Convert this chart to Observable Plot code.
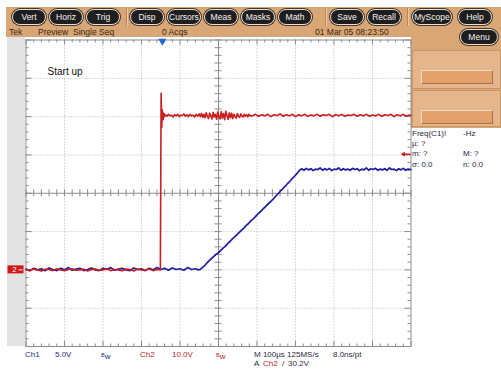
<!DOCTYPE html>
<html><head><meta charset="utf-8">
<script src="https://cdn.jsdelivr.net/npm/d3@7"></script>
<script src="https://cdn.jsdelivr.net/npm/@observablehq/plot@0.6"></script>
<style>
body{margin:0;background:#fff;font-family:"Liberation Sans",Arial,sans-serif;}
#wrap{position:relative;width:501px;height:369px;overflow:hidden;background:#fff;}
#topbar{position:absolute;left:6px;top:7px;width:495px;height:30px;background:#D9A675;}
.pill{position:absolute;top:9px;height:14px;line-height:14px;background:#1e1e1e;color:#f4f4f4;border:1px solid #e8e0d8;border-radius:8px;box-shadow:0 0 0 1px #4a3626;font-size:8.5px;text-align:center;}
.sep{position:absolute;top:8px;width:1px;height:18px;background:#b8865a;border-right:1px solid #f0c8a0;}
.stat{position:absolute;top:27px;font-size:8.5px;line-height:10px;color:#3a2614;white-space:nowrap;}
#leftstrip{position:absolute;left:7px;top:37px;width:18px;height:309px;background:#e3e3e3;}
#rpanel{position:absolute;left:411px;top:37px;width:90px;height:91px;background:#D9A675;}
.rbox{position:absolute;left:1px;width:87px;background:#E5B58B;border:1px solid #c99466;}
.rbtn{position:absolute;left:8px;width:70px;height:12px;background:#E2A06A;border-top:1px solid #f7dcc0;border-left:1px solid #f7dcc0;border-bottom:1px solid #a87048;border-right:1px solid #a87048;}
.meas{position:absolute;font-size:8px;line-height:10px;color:#1e1e3c;white-space:nowrap;}
.bot{position:absolute;font-size:8px;line-height:8px;white-space:nowrap;}
.c1{color:#1e2c80;} .c2{color:#b8282a;} .cm{color:#2a2a3a;}
.bw small{font-size:5.5px;vertical-align:2px;}
</style></head><body>
<div id="wrap">
  <div id="topbar"></div>
  <div id="leftstrip"></div>
  <div id="rpanel">
    <div class="rbox" style="top:13px;height:37px;"><div class="rbtn" style="top:19px;"></div></div>
    <div class="rbox" style="top:53px;height:35px;"><div class="rbtn" style="top:19px;"></div></div>
  </div>
</div>
<script>
// ---------- data ----------
const menuButtons = ["Vert","Horiz","Trig","Disp","Cursors","Meas","Masks","Math","Save","Recall","MyScope","Help"];
const statusLeft = ["Tek","Preview","Single Seq"];
const acqText = "0 Acqs";
const dateText = "01 Mar 05 08:23:50";
const annotation = "Start up";
const measLabels = ["Freq(C1)!","\u00b5: ?","m: ?","\u03c3: 0.0"];
const measLabels2 = ["-Hz","","M: ?","n: 0.0"];

const timePerDiv = 100;     // µs
const ch1VoltsPerDiv = 5;   // V
const ch2VoltsPerDiv = 10;  // V
const ch1Pos = -2;          // divisions
const ch2Pos = -2;          // divisions
const trigTime = -146;      // µs
const trigLevel = 30.2;     // V (Ch2)

// Ch1 (blue) trace: [time µs, volts]
const ch1Trace = [
[-500,0.1],[-490,-0.1],[-480,0.2],[-470,0],[-460,0.15],[-450,-0.1],[-440,0.25],[-430,0.05],[-420,-0.1],[-410,0.2],
[-400,0],[-390,0.3],[-380,-0.05],[-370,0.1],[-360,0.2],[-350,-0.1],[-340,0.05],[-330,0.25],[-320,0],[-310,-0.1],
[-300,0.2],[-290,0.05],[-280,0.3],[-270,-0.05],[-260,0.1],[-250,0.2],[-240,0],[-230,-0.1],[-220,0.25],[-210,0.05],
[-200,0.15],[-190,-0.1],[-180,0.2],[-170,0],[-160,0.3],[-150,0.05],[-140,0.2],[-130,-0.05],[-120,0.25],[-110,0.05],
[-100,0.15],[-90,-0.05],[-80,0.3],[-70,0.05],[-60,0.15],[-52,0],
[-48,0.05],[-44,0.2],[-40,0.4],[-36,0.55],[-32,0.8],[-28,1.0],[-24,1.2],[-20,1.4],[-16,1.6],[-12,1.75],[-8,1.95],[-4,2.1],
[0,2.25],[6,2.55],[12,2.85],[18,3.1],[24,3.45],[30,3.7],[36,4.05],[42,4.3],[48,4.6],[54,4.9],[60,5.2],[66,5.45],
[72,5.8],[78,6.05],[84,6.4],[90,6.65],[96,6.95],[102,7.3],[108,7.55],[114,7.85],[120,8.15],[126,8.45],[132,8.75],
[138,9.05],[144,9.35],[150,9.7],[156,10.0],[162,10.35],[168,10.65],[174,10.95],[180,11.3],[186,11.6],[192,11.95],
[198,12.25],[204,12.6],[208,12.85],[212,13.05],
[216,13.2],[222,13.0],[228,13.25],[234,13.05],[240,13.2],[246,12.95],[252,13.15],[258,13.1],[264,13.3],[270,13.0],
[276,13.2],[282,13.05],[288,13.25],[294,12.95],[300,13.15],[306,13.1],[312,13.3],[318,13.0],[324,13.2],[330,13.05],
[336,13.15],[342,13.0],[348,13.25],[354,13.1],[360,13.2],[366,12.95],[372,13.15],[378,13.05],[384,13.3],[390,13.0],
[396,13.2],[402,13.1],[408,13.25],[414,13.0],[420,13.15],[426,13.05],[432,13.2],[438,13.0],[444,13.3],[450,13.1],
[456,13.15],[462,12.95],[468,13.2],[474,13.05],[480,13.25],[486,13.0],[492,13.15],[500,13.1]
];

// Ch2 (red) trace: [time µs, volts]
const ch2Trace = [
[-500,0.1],[-490,-0.2],[-480,0.2],[-470,0],[-460,-0.3],[-450,0.2],[-440,0.1],[-430,-0.2],[-420,0.3],[-410,0],
[-400,-0.2],[-390,0.1],[-380,0.3],[-370,-0.1],[-360,0],[-350,0.2],[-340,-0.3],[-330,0.1],[-320,0.2],[-310,-0.1],
[-300,0],[-290,0.3],[-280,-0.2],[-270,0.1],[-260,0],[-250,-0.2],[-240,0.2],[-230,0.1],[-220,-0.3],[-210,0.2],
[-200,0],[-190,-0.1],[-180,0.3],[-170,-0.2],[-160,0.1],[-151,0],
[-149,46.1],[-147.5,37.2],[-146,41.8],[-144,39.2],[-142,40.9],[-140,40.0],
[-138,40.5],[-134,40.1],[-130,40.6],[-126,40.2],[-122,40.4],[-118,39.9],[-114,40.5],[-110,40.2],[-106,40.6],[-102,40.0],
[-98,40.4],[-94,40.3],[-90,40.7],[-86,40.1],[-82,40.5],[-78,40.0],[-74,40.6],[-70,40.2],[-66,40.4],[-62,39.9],
[-58,40.6],[-54,40.1],[-50,40.7],
[-47,40.0],[-44,40.8],[-41,39.8],[-38,40.6],[-35,39.7],[-32,41.0],[-29,40.1],[-26,39.5],[-23,40.9],[-20,40.2],
[-17,39.4],[-14,41.1],[-11,39.9],[-8,40.6],[-5,39.3],[-2,41.2],[1,40.0],[4,39.4],[7,41.3],[10,39.6],
[13,40.8],[16,39.2],[19,41.4],[22,40.3],[25,39.3],[28,41.0],[31,39.7],[34,40.9],[37,39.5],[40,40.6],
[43,40.0],[46,39.6],[49,40.8],[52,40.1],[55,39.8],[58,40.7],[61,40.2],[64,39.9],[67,40.6],[70,40.1],
[73,40.5],[76,39.9],[79,40.6],[82,40.2],
[88,40.2],[96,40.6],[104,40.1],[112,40.5],[120,40.2],[128,40.6],[136,40.0],[144,40.5],[152,40.3],[160,40.7],
[168,40.1],[176,40.5],[184,40.2],[192,40.6],[200,40.0],[208,40.5],[216,40.2],[224,40.6],[232,40.1],[240,40.4],
[248,40.2],[256,40.6],[264,40.1],[272,40.5],[280,40.3],[288,40.6],[296,40.0],[304,40.5],[312,40.2],[320,40.6],
[328,40.1],[336,40.4],[344,40.3],[352,40.6],[360,40.1],[368,40.5],[376,40.2],[384,40.6],[392,40.1],[400,40.4],
[408,40.2],[416,40.6],[424,40.1],[432,40.5],[440,40.3],[448,40.6],[456,40.0],[464,40.5],[472,40.2],[480,40.6],
[488,40.1],[496,40.4],[500,40.3]
];

// ---------- layout ----------
const wrap = document.getElementById("wrap");
function addDiv(cls, left, top, html, extra) {
  const d = document.createElement("div");
  d.className = cls; d.style.left = left + "px"; if (top != null) d.style.top = top + "px";
  d.innerHTML = html; if (extra) Object.assign(d.style, extra);
  wrap.appendChild(d); return d;
}
const groups = [[0,3,12],[3,8,130],[8,10,330],[10,12,412]];
groups.forEach(([a,b,x0]) => {
  let x = x0;
  for (let i = a; i < b; i++) {
    const w = menuButtons[i] === "MyScope" ? 38 : 32;
    addDiv("pill", x, null, menuButtons[i], {width: w + "px"});
    x += w + (menuButtons[i] === "MyScope" ? 8 : 5);
  }
});
[126, 325, 407].forEach(x => addDiv("sep", x, null, ""));
addDiv("stat", 9, null, statusLeft[0]);
addDiv("stat", 38, null, statusLeft[1]);
addDiv("stat", 73, null, statusLeft[2]);
addDiv("stat", 162, null, acqText);
addDiv("stat", 315, null, dateText);
addDiv("pill", 460, null, "Menu", {top: "29px", width: "36px", height: "14px"});
measLabels.forEach((t,i) => addDiv("meas", 412, 129 + i*10.2, t));
measLabels2.forEach((t,i) => addDiv("meas", 463, 129 + i*10.2, t));

const r1 = 351, r2 = 359.5;
addDiv("bot c1", 25, r1, "Ch1");
addDiv("bot c1", 55, r1, ch1VoltsPerDiv.toFixed(1) + "V");
addDiv("bot c1 bw", 101, r1, "<small>B</small>w");
addDiv("bot c2", 140, r1, "Ch2");
addDiv("bot c2", 172, r1, ch2VoltsPerDiv.toFixed(1) + "V");
addDiv("bot c2 bw", 216, r1, "<small>B</small>w");
addDiv("bot cm", 254, r1, "M " + timePerDiv + "\u00b5s 125MS/s");
addDiv("bot cm", 333, r1, "8.0ns/pt");
addDiv("bot cm", 254, r2, "A");
addDiv("bot c2", 263, r2, "Ch2");
addDiv("bot cm", 282, r2, "/");
addDiv("bot cm", 288, r2, trigLevel.toFixed(1) + "V");

// ---------- chart ----------
const pxX = timePerDiv / 38.5;   // µs per pixel
const pxY = 1 / 38.3;            // divisions per pixel
const xMinor = d3.range(-500, 500.01, 20);
const yMinor = d3.range(-20, 21).map(i => i / 5);
const xDiv = d3.range(-4, 5).map(i => i * timePerDiv).filter(t => t !== 0);
const yDiv = d3.range(-3, 4).filter(v => v !== 0);
const majX = t => Math.abs(t / 100 - Math.round(t / 100)) < 1e-6;
const majY = v => Math.abs(v - Math.round(v)) < 1e-6;
const gray = "#8c8c8c";
const blue = "#1d1da0", red = "#c81e1e";

const chart = Plot.plot({
  width: 501, height: 369,
  marginLeft: 25.5, marginRight: 90.5, marginTop: 39.5, marginBottom: 23,
  x: {domain: [-500, 500], axis: null},
  y: {domain: [-4, 4], axis: null},
  style: {background: "transparent", fontFamily: "Liberation Sans, Arial, sans-serif", overflow: "visible"},
  marks: [
    Plot.ruleX(xDiv, {stroke: "#b4b4b4", strokeDasharray: "1,2"}),
    Plot.ruleY(yDiv, {stroke: "#b4b4b4", strokeDasharray: "1,2"}),
    Plot.ruleX([0], {stroke: gray}),
    Plot.ruleY([0], {stroke: gray}),
    Plot.ruleX(xMinor, {x: d => d, y1: -3.5 * pxY, y2: 3.5 * pxY, stroke: gray}),
    Plot.ruleY(yMinor, {y: d => d, x1: -3.5 * pxX, x2: 3.5 * pxX, stroke: gray}),
    Plot.ruleX(xMinor, {x: d => d, y1: -4, y2: d => -4 + (majX(d) ? 5 : 2.5) * pxY, stroke: gray}),
    Plot.ruleX(xMinor, {x: d => d, y1: 4, y2: d => 4 - (majX(d) ? 5 : 3) * pxY, stroke: gray}),
    Plot.ruleY(yMinor, {y: d => d, x1: -500, x2: d => -500 + (majY(d) ? 6 : 3) * pxX, stroke: gray}),
    Plot.ruleY(yMinor, {y: d => d, x1: 500, x2: d => 500 - (majY(d) ? 6 : 3) * pxX, stroke: gray}),
    Plot.frame({stroke: gray}),
    Plot.line(ch1Trace, {x: d => d[0], y: d => d[1] / ch1VoltsPerDiv + ch1Pos, stroke: blue, strokeWidth: 1.7}),
    Plot.line(ch2Trace, {x: d => d[0], y: d => d[1] / ch2VoltsPerDiv + ch2Pos, stroke: red, strokeWidth: 1.6}),
    Plot.dot([trigTime], {x: d => d, y: 4, symbol: "triangle", r: 3, fill: "#2266dd", rotate: 180, dy: 1}),
    Plot.arrow([trigLevel], {x1: 500 - 1 * pxX, x2: 500 - 9 * pxX, y1: d => d / ch2VoltsPerDiv + ch2Pos, y2: d => d / ch2VoltsPerDiv + ch2Pos, stroke: red, strokeWidth: 1.5, headLength: 5}),
    Plot.rect([ch2Pos], {x1: -500 - 18 * pxX, x2: -500 - 2 * pxX, y1: d => d - 4 * pxY, y2: d => d + 4 * pxY, fill: "#d01818"}),
    Plot.text([ch2Pos], {x: -500 - 11.5 * pxX, y: d => d, text: () => "2", fill: "white", fontSize: 8}),
    Plot.ruleY([ch2Pos], {x1: -500 - 7 * pxX, x2: -500 - 3 * pxX, stroke: "white", strokeWidth: 1}),
    Plot.text([annotation], {x: -444, y: 3.18, text: d => d, textAnchor: "start", fontSize: 10, fill: "#111"})
  ]
});
chart.style.position = "absolute";
chart.style.left = "0px";
chart.style.top = "0px";
wrap.appendChild(chart);
</script>
</body></html>
